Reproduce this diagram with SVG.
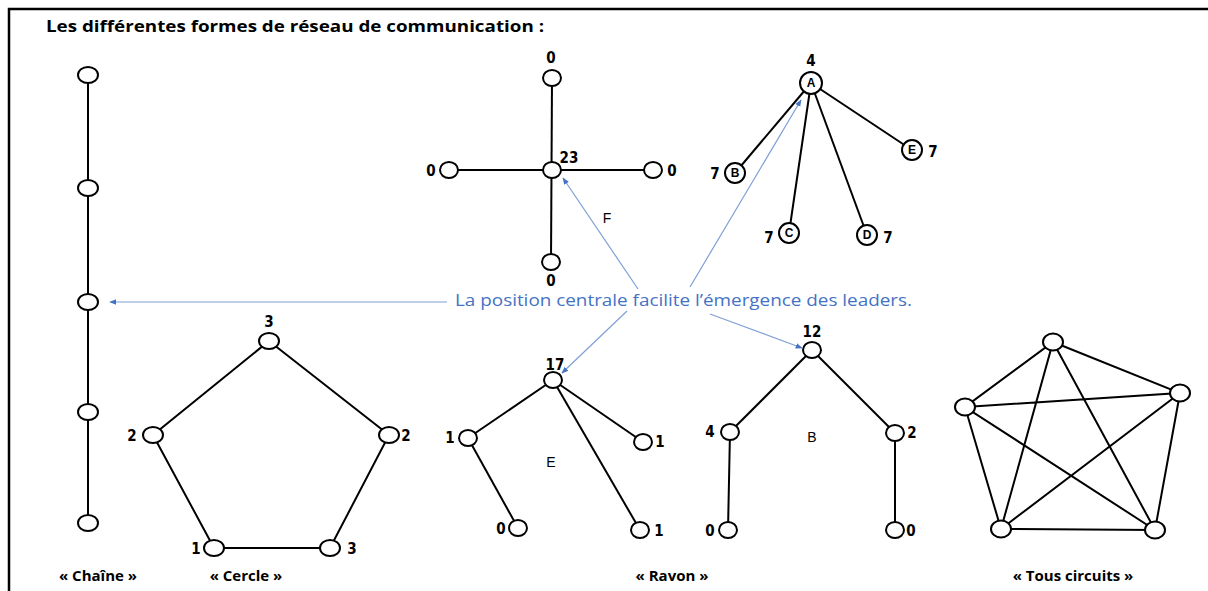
<svg xmlns="http://www.w3.org/2000/svg" width="1208" height="591" viewBox="0 0 1208 591">
<defs>
<style>
.bg{fill:#fff}
.frame{stroke:#000;stroke-width:2.5;fill:none}
.e{stroke:#000;stroke-width:2;fill:none}
.n{fill:#fff;stroke:#000;stroke-width:2}
.num{font-family:"DejaVu Sans","Liberation Sans",sans-serif;font-stretch:condensed;font-weight:700;font-size:15px;fill:#000;text-anchor:middle}
.let{font-family:"Liberation Sans",sans-serif;font-weight:700;font-size:12px;fill:#000;text-anchor:middle}
.mid{font-family:"Liberation Sans",sans-serif;font-size:14px;fill:#000;text-anchor:middle}
.title{font-family:"Open Sans","Liberation Sans",sans-serif;font-weight:700;font-size:16px;fill:#000}
.cap{font-family:"Open Sans","Liberation Sans",sans-serif;font-weight:700;font-size:15px;fill:#000;text-anchor:middle}
.blue{font-family:"Open Sans","Liberation Sans",sans-serif;font-size:16px;fill:#4472C4}
.arr{stroke:#7f9fd6;stroke-width:1.2;fill:none;marker-end:url(#ah)}
</style>
<marker id="ah" viewBox="0 0 10 10" refX="9" refY="5" markerWidth="7" markerHeight="7" orient="auto" markerUnits="userSpaceOnUse">
<path d="M0,1 L10,5 L0,9 z" fill="#4472C4"/>
</marker>
</defs>
<rect class="bg" x="0" y="0" width="1208" height="591"/>
<path class="frame" d="M9,591 V9 H1208"/>
<text class="title" x="46" y="32" textLength="498" lengthAdjust="spacingAndGlyphs">Les différentes formes de réseau de communication :</text>

<g id="connectors">
<line class="e" x1="88" y1="75" x2="88" y2="523"/>
<polygon class="e" points="269,341 389,435 330,548 214,548 153,435"/>
<line class="e" x1="552" y1="78" x2="551" y2="262"/>
<line class="e" x1="449" y1="170" x2="653" y2="170"/>
<line class="e" x1="811" y1="83" x2="735" y2="173"/>
<line class="e" x1="811" y1="83" x2="789" y2="233"/>
<line class="e" x1="811" y1="83" x2="867" y2="235"/>
<line class="e" x1="811" y1="83" x2="912" y2="150"/>
<line class="e" x1="553" y1="380" x2="468" y2="438"/>
<line class="e" x1="553" y1="380" x2="643" y2="442"/>
<line class="e" x1="553" y1="380" x2="640" y2="530"/>
<line class="e" x1="468" y1="438" x2="518" y2="528"/>
<line class="e" x1="812" y1="350" x2="730" y2="432"/>
<line class="e" x1="812" y1="350" x2="895" y2="433"/>
<line class="e" x1="730" y1="432" x2="728" y2="530"/>
<line class="e" x1="895" y1="433" x2="895" y2="530"/>
<polygon class="e" points="1053,342 1180,393 1155,530 1001,529 965,407"/>
<polygon class="e" points="1053,342 1155,530 965,407 1180,393 1001,529"/>
<line class="arr" x1="447" y1="302" x2="110" y2="302"/>
<line class="arr" x1="638" y1="289" x2="563" y2="178"/>
<line class="arr" x1="690" y1="287" x2="801" y2="100"/>
<line class="arr" x1="627" y1="311" x2="562" y2="373"/>
<line class="arr" x1="710" y1="314" x2="802" y2="348"/>
</g>

<g id="chaine">
<ellipse class="n" cx="88" cy="75" rx="10" ry="8"/>
<ellipse class="n" cx="88" cy="188" rx="10" ry="8"/>
<ellipse class="n" cx="88" cy="302" rx="10" ry="8"/>
<ellipse class="n" cx="88" cy="412" rx="10" ry="8"/>
<ellipse class="n" cx="88" cy="523" rx="10" ry="8"/>
<text class="cap" x="98" y="581">« Chaîne »</text>
</g>

<g id="cercle">
<ellipse class="n" cx="269" cy="341" rx="10" ry="8"/>
<ellipse class="n" cx="389" cy="435" rx="10" ry="8"/>
<ellipse class="n" cx="330" cy="548" rx="10" ry="8"/>
<ellipse class="n" cx="214" cy="548" rx="10" ry="8"/>
<ellipse class="n" cx="153" cy="435" rx="10" ry="8"/>
<text class="num" x="269" y="327">3</text>
<text class="num" x="132" y="441">2</text>
<text class="num" x="406" y="441">2</text>
<text class="num" x="196" y="554">1</text>
<text class="num" x="352" y="554">3</text>
<text class="cap" x="246" y="581">« Cercle »</text>
</g>

<g id="etoile">
<ellipse class="n" cx="552" cy="78" rx="9" ry="8"/>
<ellipse class="n" cx="552" cy="170" rx="9" ry="8"/>
<ellipse class="n" cx="449" cy="170" rx="9" ry="8"/>
<ellipse class="n" cx="653" cy="170" rx="9" ry="8"/>
<ellipse class="n" cx="551" cy="262" rx="9" ry="8"/>
<text class="num" x="551" y="63">0</text>
<text class="num" x="569" y="163">23</text>
<text class="num" x="431" y="176">0</text>
<text class="num" x="672" y="176">0</text>
<text class="num" x="551" y="286">0</text>
<text class="mid" x="607" y="223">F</text>
</g>

<g id="roue">
<circle class="n" cx="811" cy="83" r="11"/>
<circle class="n" cx="735" cy="173" r="10"/>
<circle class="n" cx="789" cy="233" r="10"/>
<circle class="n" cx="867" cy="235" r="10"/>
<circle class="n" cx="912" cy="150" r="10"/>
<text class="let" x="811" y="87">A</text>
<text class="let" x="735" y="177">B</text>
<text class="let" x="789" y="237">C</text>
<text class="let" x="867" y="239">D</text>
<text class="let" x="912" y="154">E</text>
<text class="num" x="811" y="66">4</text>
<text class="num" x="715" y="179">7</text>
<text class="num" x="769" y="243">7</text>
<text class="num" x="888" y="243">7</text>
<text class="num" x="933" y="157">7</text>
</g>

<g id="ravon-e">
<ellipse class="n" cx="553" cy="380" rx="9" ry="8"/>
<ellipse class="n" cx="468" cy="438" rx="9" ry="8"/>
<ellipse class="n" cx="643" cy="442" rx="9" ry="8"/>
<ellipse class="n" cx="518" cy="528" rx="9" ry="8"/>
<ellipse class="n" cx="640" cy="530" rx="9" ry="8"/>
<text class="num" x="555" y="370">17</text>
<text class="num" x="450" y="443">1</text>
<text class="num" x="660" y="447">1</text>
<text class="num" x="501" y="534">0</text>
<text class="num" x="659" y="536">1</text>
<text class="mid" x="551" y="467">E</text>
</g>

<g id="ravon-b">
<ellipse class="n" cx="812" cy="350" rx="9" ry="8"/>
<ellipse class="n" cx="730" cy="432" rx="9" ry="8"/>
<ellipse class="n" cx="895" cy="433" rx="9" ry="8"/>
<ellipse class="n" cx="728" cy="530" rx="9" ry="8"/>
<ellipse class="n" cx="895" cy="530" rx="9" ry="8"/>
<text class="num" x="812" y="337">12</text>
<text class="num" x="710" y="437">4</text>
<text class="num" x="912" y="438">2</text>
<text class="num" x="710" y="536">0</text>
<text class="num" x="911" y="536">0</text>
<text class="mid" x="812" y="442">B</text>
<text class="cap" x="672" y="581">« Ravon »</text>
</g>

<g id="tous-circuits">
<ellipse class="n" cx="1053" cy="342" rx="10" ry="8.5"/>
<ellipse class="n" cx="1180" cy="393" rx="10" ry="8.5"/>
<ellipse class="n" cx="1155" cy="530" rx="10" ry="8.5"/>
<ellipse class="n" cx="1001" cy="529" rx="10" ry="8.5"/>
<ellipse class="n" cx="965" cy="407" rx="10" ry="8.5"/>
<text class="cap" x="1073" y="581">« Tous circuits »</text>
</g>

<g id="legende">
<text class="blue" x="455" y="306" textLength="457" lengthAdjust="spacingAndGlyphs">La position centrale facilite l’émergence des leaders.</text>
</g>
</svg>
